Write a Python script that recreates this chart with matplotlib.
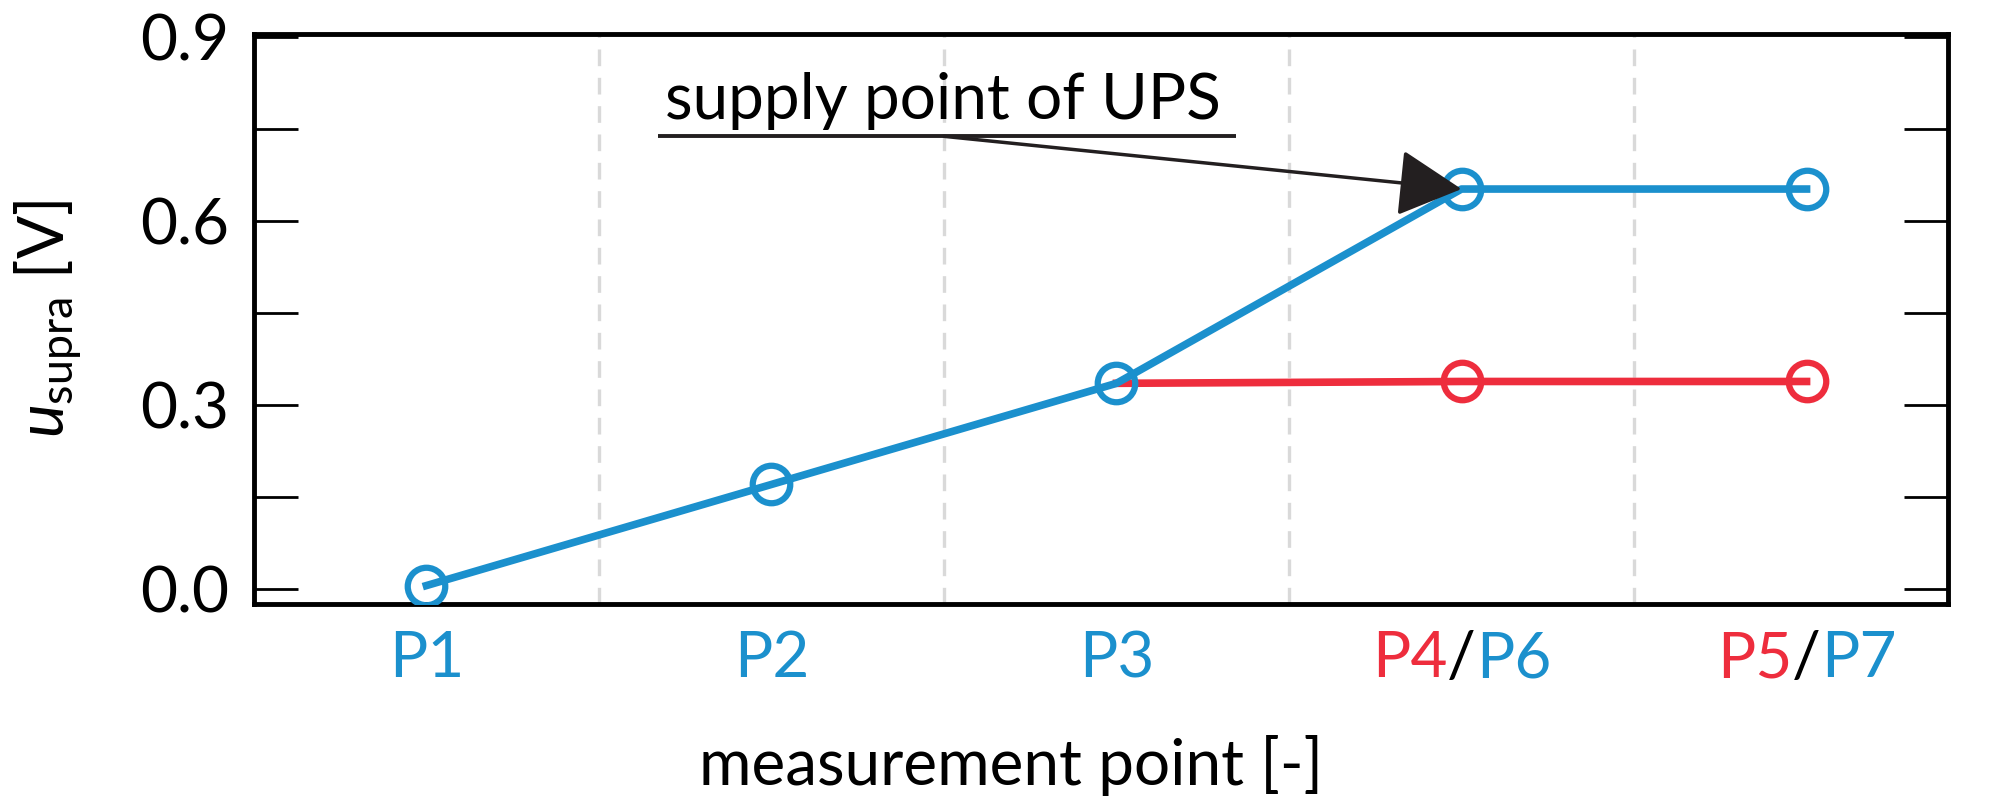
import matplotlib
matplotlib.use("Agg")
import matplotlib.pyplot as plt
from matplotlib.offsetbox import TextArea, HPacker, AnnotationBbox

######### DATA #########
points = [0, 1, 2, 3, 4]
blue_vals = [0.005, 0.17, 0.335, 0.652, 0.652]
red_points = [2, 3, 4]
red_vals = [0.335, 0.338, 0.338]
# tick labels as (text, colour) pieces
tick_parts = [
    [("P1", "b")],
    [("P2", "b")],
    [("P3", "b")],
    [("P4", "r"), ("/", "k"), ("P6", "b")],
    [("P5", "r"), ("/", "k"), ("P7", "b")],
]

BLUE = "#1B90CD"
RED = "#EE2D3D"
COLORS = {"b": BLUE, "r": RED, "k": "black"}
FONT = "Lato"
FS = 46

plt.rcParams["font.family"] = [FONT, "DejaVu Sans"]
plt.rcParams["mathtext.fontset"] = "custom"
plt.rcParams["mathtext.rm"] = FONT
plt.rcParams["mathtext.it"] = FONT + ":italic"

fig = plt.figure(figsize=(19.9, 8.11), dpi=100)
ax = fig.add_axes([0.1276, 0.2553, 0.8513, 0.7028])

######### PLOTTING #########
ax.plot(red_points, red_vals, color=RED, lw=5.5, marker="o", ms=27,
        mfc="none", mec=RED, mew=4.5, markevery=[1, 2], zorder=3)
ax.plot(points, blue_vals, color=BLUE, lw=5.5, marker="o", ms=27,
        mfc="none", mec=BLUE, mew=4.5, zorder=4)

ax.set_xlim(-0.5, 4.41)
ax.set_ylim(-0.025, 0.905)

# y ticks: labels only every 0.3
ax.set_yticks([0.0, 0.3, 0.6, 0.9])
ax.set_yticklabels(["0.0", "0.3", "0.6", "0.9"])
ax.set_yticks([0.15, 0.45, 0.75], minor=True)
ax.tick_params(axis="y", which="both", direction="in", length=32, width=2,
               left=True, right=True, labelsize=FS, pad=18)

# x: dashed separators between categories, labels drawn by hand
ax.set_xticks(points)
ax.set_xticklabels([""] * len(points))
ax.set_xticks([0.5, 1.5, 2.5, 3.5], minor=True)
ax.tick_params(axis="x", which="both", length=0)
ax.grid(axis="x", which="minor", color="#D9D9D9", lw=2.4, ls=(0, (5, 3.5)))
ax.set_axisbelow(True)

for sp in ax.spines.values():
    sp.set_linewidth(3.5)

for x, parts in zip(points, tick_parts):
    box = HPacker(children=[TextArea(t, textprops=dict(color=COLORS[c], fontsize=FS,
                                                       family=[FONT, "DejaVu Sans"]))
                            for t, c in parts], align="baseline", pad=0, sep=0)
    ab = AnnotationBbox(box, (x, 0), xycoords=ax.get_xaxis_transform(),
                        xybox=(0, -19), boxcoords="offset points",
                        box_alignment=(0.5, 1), frameon=False)
    ax.add_artist(ab)

ax.set_xlabel("measurement point [-]", fontsize=FS)
ax.xaxis.set_label_coords(0.447, -0.23)
ax.set_ylabel(r"$u_{\mathrm{supra}}$ [V]", fontsize=FS)
ax.yaxis.set_label_coords(-0.1, 0.5)

# annotation: underlined text with arrow to the UPS supply point
ax.text(0.69, 0.766, "supply point of UPS", fontsize=FS, ha="left", va="baseline")
ax.plot([0.67, 2.345], [0.738, 0.738], color="#231F20", lw=2.8, solid_capstyle="butt")
ax.annotate("", xy=(points[3], blue_vals[3]), xytext=(1.5, 0.738),
            arrowprops=dict(arrowstyle="-|>,head_length=0.95,head_width=0.5",
                            mutation_scale=42, lw=2.5, color="#231F20",
                            shrinkA=0, shrinkB=0), zorder=5)

fig.savefig("out.png", dpi=100)
